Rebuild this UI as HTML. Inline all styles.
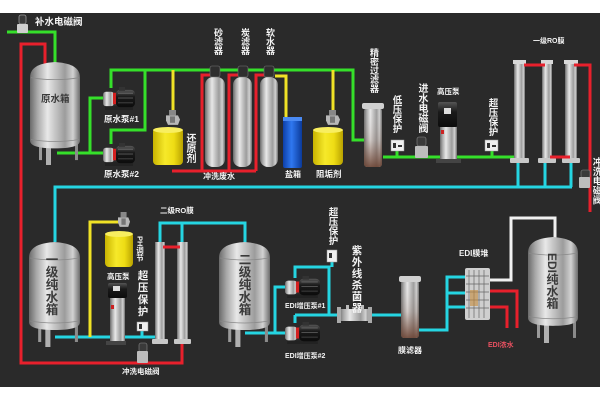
<!DOCTYPE html>
<html><head><meta charset="utf-8">
<style>
html,body{margin:0;padding:0;}
body{width:600px;height:400px;position:relative;overflow:hidden;background:#fff;}
svg{position:absolute;left:0;top:0;}
.t{position:absolute;color:#f4f4f4;font-family:"Liberation Sans","Noto Sans CJK SC",sans-serif;font-weight:bold;white-space:nowrap;line-height:1;}
.v{writing-mode:vertical-rl;text-orientation:upright;}
.vm{writing-mode:vertical-rl;text-orientation:mixed;}
.d{color:#3a3a3a;}
</style></head>
<body>
<svg width="600" height="400" viewBox="0 0 600 400" xmlns="http://www.w3.org/2000/svg">
<defs>
<linearGradient id="metal" x1="0" y1="0" x2="1" y2="0">
<stop offset="0" stop-color="#6a6a6a"/><stop offset="0.15" stop-color="#a9a9a9"/><stop offset="0.35" stop-color="#e8e8e8"/><stop offset="0.5" stop-color="#c6c6c6"/><stop offset="0.7" stop-color="#9c9c9c"/><stop offset="0.86" stop-color="#d2d2d2"/><stop offset="1" stop-color="#6c6c6c"/>
</linearGradient>
<linearGradient id="yel" x1="0" y1="0" x2="1" y2="0">
<stop offset="0" stop-color="#c9b400"/><stop offset="0.4" stop-color="#f6e92a"/><stop offset="0.7" stop-color="#eedc14"/><stop offset="1" stop-color="#b8a200"/>
</linearGradient>
<linearGradient id="blu" x1="0" y1="0" x2="1" y2="0">
<stop offset="0" stop-color="#0d3fa8"/><stop offset="0.45" stop-color="#2f78f0"/><stop offset="1" stop-color="#0b3a9a"/>
</linearGradient>
<linearGradient id="brn" x1="0" y1="0" x2="0" y2="1">
<stop offset="0" stop-color="#d8d8d8" stop-opacity="0"/><stop offset="0.55" stop-color="#7a5444" stop-opacity="0.2"/><stop offset="1" stop-color="#6a4232" stop-opacity="0.9"/>
</linearGradient>
<linearGradient id="blk" x1="0" y1="0" x2="0" y2="1">
<stop offset="0" stop-color="#555"/><stop offset="0.4" stop-color="#1a1a1a"/><stop offset="1" stop-color="#0c0c0c"/>
</linearGradient>
<symbol id="tank" viewBox="0 0 50 105" preserveAspectRatio="none">
<rect x="9" y="80" width="3" height="20" fill="#9a9a9a"/>
<rect x="16" y="80" width="5" height="25" fill="#b0b0b0"/>
<rect x="45" y="80" width="3" height="20" fill="#8a8a8a"/>
<path d="M0,16 C0,4 12,1 25,0 C38,1 50,4 50,16 L50,80 C50,86 40,88 25,88 C10,88 0,86 0,80 Z" fill="url(#metal)"/>
<path d="M1,16 Q25,20 49,16" stroke="#8a8a8a" stroke-width="0.8" fill="none"/>
<path d="M1,79 Q25,83 49,79" stroke="#8a8a8a" stroke-width="0.8" fill="none"/>
</symbol>
<symbol id="hpump" viewBox="0 0 32 24" preserveAspectRatio="none">
<rect x="2" y="20" width="28" height="4" fill="#222"/>
<rect x="0" y="5" width="11" height="15" rx="3" fill="url(#metal)"/>
<rect x="10" y="6" width="3" height="12" fill="#d42020"/>
<rect x="13" y="3" width="19" height="18" rx="4" fill="url(#blk)"/>
<rect x="15" y="6" width="15" height="1" fill="#666"/>
<rect x="15" y="11" width="15" height="1" fill="#555"/>
<rect x="15" y="16" width="15" height="1" fill="#444"/>
<rect x="16" y="0" width="6" height="4" fill="#333"/>
</symbol>
<symbol id="dose" viewBox="0 0 14 15" preserveAspectRatio="none">
<rect x="3" y="0" width="7" height="5" fill="#888"/>
<path d="M0,5 H12 L14,9 L12,14 H2 L0,10 Z" fill="#b8b8b8"/>
<rect x="4" y="6" width="5" height="6" fill="#777"/>
</symbol>
</defs>

<rect x="0" y="13" width="600" height="374" fill="#2a2a2a"/>

<!-- pipes -->
<g fill="none" stroke-width="3" stroke-linejoin="miter">
<g stroke="#35e02a">
<path d="M7,32 H55 V64"/>
<path d="M57,153 H103"/>
<path d="M90,153 V98 H104"/>
<path d="M111,88 V70 H353 V140 H366"/>
<path d="M145,70 V130 H111 V144"/>
<path d="M383,157 H517"/>
<path d="M397,157 V150"/>
<path d="M492,157 V150"/>
</g>
<g stroke="#e8202c">
<path d="M45,64 V44 H21 V363 H182 V342"/>
<path d="M172,171 H256"/>
<path d="M202,171 V75 H210"/>
<path d="M229,171 V75 H238"/>
<path d="M256,171 V75 H264"/>
<path d="M524,65 H545"/>
<path d="M574,65 H590 V212"/>
<path d="M550,157 H570"/>
<path d="M163,247 H180"/>
<path d="M490,291 H517 V328"/>
<path d="M490,307 H507 V328"/>
</g>
<g stroke="#25d5e2">
<path d="M55,242 V187 H572"/>
<path d="M518,162 V187"/>
<path d="M545,162 V187"/>
<path d="M571,162 V187"/>
<path d="M55,337 H158"/>
<path d="M142,337 V330"/>
<path d="M160,242 V223 H245 V244"/>
<path d="M182,223 V242"/>
<path d="M245,333 H275 V287 H287"/>
<path d="M275,333 H287"/>
<path d="M295,278 V267 H329 V315"/>
<path d="M295,315 H403"/>
<path d="M295,315 V323"/>
<path d="M332,267 V262"/>
<path d="M419,330 H447 V277 H466"/>
<path d="M447,293 H466"/>
<path d="M447,307 H466"/>
</g>
<g stroke="#f0e226">
<path d="M173,70 V113"/>
<path d="M275,76 H286 V118"/>
<path d="M333,70 V113"/>
<path d="M90,337 V222 H120"/>
</g>
<g stroke="#f0f0f0">
<path d="M490,280 H511 V218 H555 V239"/>
</g>
</g>

<!-- make-up valve -->
<rect x="19" y="15" width="7" height="9" rx="2" fill="#3a3a3a" stroke="#999" stroke-width="0.8"/>
<rect x="17" y="24" width="11" height="9" rx="1" fill="#cfcfcf"/>

<!-- tanks -->
<use href="#tank" x="30" y="62" width="50" height="103"/>
<use href="#tank" x="29" y="242" width="51" height="105"/>
<use href="#tank" x="219" y="242" width="51" height="105"/>
<use href="#tank" x="528" y="237" width="50" height="106"/>

<!-- pumps -->
<use href="#hpump" x="103" y="87" width="32" height="23"/>
<use href="#hpump" x="103" y="143" width="32" height="23"/>
<use href="#hpump" x="285" y="276" width="35" height="22"/>
<use href="#hpump" x="285" y="322" width="35" height="22"/>

<!-- dosing pumps -->
<use href="#dose" x="166" y="110" width="14" height="16"/>
<use href="#dose" x="326" y="110" width="14" height="16"/>
<use href="#dose" x="118" y="212" width="12" height="16"/>

<!-- yellow tanks -->
<rect x="153" y="128" width="30" height="37" rx="4" fill="url(#yel)"/>
<ellipse cx="168" cy="130" rx="15" ry="3" fill="#f8ee60"/>
<rect x="313" y="128" width="30" height="37" rx="4" fill="url(#yel)"/>
<ellipse cx="328" cy="130" rx="15" ry="3" fill="#f8ee60"/>
<rect x="105" y="232" width="28" height="35" rx="4" fill="url(#yel)"/>
<ellipse cx="119" cy="234" rx="14" ry="3" fill="#f8ee60"/>

<!-- salt tank -->
<rect x="283" y="117" width="19" height="51" rx="2" fill="url(#blu)"/>
<rect x="283" y="117" width="19" height="4" fill="#4a8af4"/>

<!-- sand/carbon/softener filters -->
<g>
<rect x="205" y="77" width="20" height="90" rx="8" fill="url(#metal)"/>
<rect x="233" y="77" width="19" height="90" rx="8" fill="url(#metal)"/>
<rect x="260" y="77" width="18" height="90" rx="8" fill="url(#metal)"/>
<rect x="210" y="66" width="10" height="11" rx="2" fill="#2e2e2e" stroke="#777" stroke-width="0.6"/>
<rect x="238" y="66" width="10" height="11" rx="2" fill="#2e2e2e" stroke="#777" stroke-width="0.6"/>
<rect x="264" y="66" width="10" height="11" rx="2" fill="#2e2e2e" stroke="#777" stroke-width="0.6"/>
</g>

<!-- precision filter -->
<rect x="364" y="108" width="18" height="59" rx="3" fill="url(#metal)"/>
<rect x="364" y="108" width="18" height="59" rx="3" fill="url(#brn)"/>
<rect x="362" y="103" width="22" height="6" rx="2" fill="#d0d0d0"/>
<!-- membrane filter -->
<rect x="401" y="280" width="18" height="58" rx="3" fill="url(#metal)"/>
<rect x="401" y="280" width="18" height="58" rx="3" fill="url(#brn)"/>
<rect x="399" y="276" width="22" height="6" rx="2" fill="#d0d0d0"/>

<!-- gauges -->
<g fill="#f0f0f0" stroke="#999" stroke-width="0.5">
<rect x="391" y="140" width="13" height="11"/>
<rect x="485" y="140" width="13" height="11"/>
<rect x="137" y="322" width="11" height="9"/>
<rect x="327" y="250" width="10" height="12"/>
</g>
<g fill="#333">
<rect x="393" y="143" width="3" height="5"/><rect x="398" y="145" width="4" height="2"/>
<rect x="487" y="143" width="3" height="5"/><rect x="492" y="145" width="4" height="2"/>
<rect x="139" y="324" width="3" height="5"/>
<rect x="329" y="253" width="3" height="5"/>
</g>

<!-- solenoid valves -->
<rect x="417" y="137" width="9" height="9" rx="2" fill="#3a3a3a" stroke="#888" stroke-width="0.6"/>
<rect x="415" y="146" width="13" height="12" rx="1" fill="#bdbdbd"/>
<rect x="581" y="170" width="9" height="8" rx="2" fill="#3a3a3a" stroke="#888" stroke-width="0.6"/>
<rect x="579" y="177" width="11" height="11" rx="1" fill="#bdbdbd"/>
<rect x="139" y="343" width="8" height="9" rx="2" fill="#3a3a3a" stroke="#888" stroke-width="0.6"/>
<rect x="137" y="351" width="11" height="12" rx="1" fill="#bdbdbd"/>

<!-- vertical high pressure pumps -->
<rect x="438" y="102" width="19" height="25" rx="2" fill="url(#blk)"/>
<rect x="444" y="108" width="7" height="6" fill="#ddd"/>
<rect x="440" y="127" width="17" height="34" fill="url(#metal)"/>
<rect x="441" y="130" width="3" height="4" fill="#c22"/>
<rect x="436" y="159" width="25" height="4" fill="#444"/>
<rect x="108" y="283" width="19" height="15" rx="2" fill="url(#blk)"/>
<rect x="113" y="286" width="7" height="5" fill="#ddd"/>
<rect x="110" y="298" width="15" height="45" fill="url(#metal)"/>
<rect x="111" y="305" width="3" height="4" fill="#c22"/>
<rect x="106" y="341" width="20" height="4" fill="#444"/>

<!-- RO tubes level 1 -->
<rect x="514" y="62" width="11" height="98" fill="url(#metal)"/>
<rect x="542" y="62" width="10" height="98" fill="url(#metal)"/>
<rect x="565" y="62" width="12" height="98" fill="url(#metal)"/>
<rect x="510" y="158" width="19" height="5" rx="1" fill="#c8c8c8"/>
<rect x="538" y="158" width="18" height="5" rx="1" fill="#c8c8c8"/>
<rect x="562" y="158" width="18" height="5" rx="1" fill="#c8c8c8"/>
<rect x="513" y="60" width="13" height="4" fill="#d8d8d8"/>
<rect x="541" y="60" width="12" height="4" fill="#d8d8d8"/>
<rect x="564" y="60" width="14" height="4" fill="#d8d8d8"/>

<!-- RO tubes level 2 -->
<rect x="155" y="242" width="10" height="100" fill="url(#metal)"/>
<rect x="177" y="242" width="11" height="100" fill="url(#metal)"/>
<rect x="152" y="339" width="16" height="5" rx="1" fill="#c8c8c8"/>
<rect x="174" y="339" width="17" height="5" rx="1" fill="#c8c8c8"/>

<!-- red joint over RO 2 -->
<path d="M163,247 H180" stroke="#e8202c" stroke-width="3"/>
<path d="M524,65 H545" stroke="#e8202c" stroke-width="3"/>
<path d="M574,65 H590" stroke="#e8202c" stroke-width="3"/>
<path d="M550,157 H570" stroke="#e8202c" stroke-width="3"/>

<!-- UV sterilizer -->
<rect x="339" y="309" width="31" height="12" rx="2" fill="url(#metal)"/>
<rect x="337" y="307" width="4" height="16" fill="#aaa"/>
<rect x="368" y="307" width="4" height="16" fill="#aaa"/>
<rect x="346" y="305" width="3" height="4" fill="#bbb"/>
<rect x="361" y="305" width="3" height="4" fill="#bbb"/>

<!-- EDI stack -->
<rect x="465" y="268" width="25" height="52" rx="2" fill="#cfcfcf"/>
<g stroke="#666" stroke-width="0.7">
<path d="M469,270 V318 M474,270 V318 M479,270 V318 M484,270 V318"/>
<path d="M466,276 H489 M466,284 H489 M466,292 H489 M466,300 H489 M466,308 H489"/>
</g>
<rect x="470" y="290" width="8" height="16" fill="#c48a3a" opacity="0.6"/>
</svg>

<!-- labels -->
<div class="t" style="left:35px;top:18px;font-size:9.5px;">补水电磁阀</div>
<div class="t d" style="left:41px;top:95px;font-size:9.5px;">原水箱</div>
<div class="t" style="left:104px;top:115px;font-size:8.5px;">原水泵#1</div>
<div class="t" style="left:104px;top:170px;font-size:8.5px;">原水泵#2</div>
<div class="t v" style="left:213px;top:28px;font-size:9px;">砂滤器</div>
<div class="t v" style="left:240px;top:28px;font-size:9px;">炭滤器</div>
<div class="t v" style="left:265px;top:28px;font-size:9px;">软水器</div>
<div class="t v" style="left:184px;top:133px;font-size:10px;">还原剂</div>
<div class="t" style="left:203px;top:173px;font-size:8px;">冲洗废水</div>
<div class="t" style="left:285px;top:171px;font-size:8px;">盐箱</div>
<div class="t" style="left:316px;top:170px;font-size:8.5px;">阻垢剂</div>
<div class="t v" style="left:369px;top:48px;font-size:9px;">精密过滤器</div>
<div class="t v" style="left:391px;top:95px;font-size:9.5px;">低压保护</div>
<div class="t v" style="left:416px;top:83px;font-size:10px;">进水电磁阀</div>
<div class="t" style="left:437px;top:88px;font-size:7.5px;">高压泵</div>
<div class="t v" style="left:487px;top:98px;font-size:9.5px;">超压保护</div>
<div class="t" style="left:533px;top:38px;font-size:7px;">一级RO膜</div>
<div class="t v" style="left:591px;top:157px;font-size:9.5px;">冲洗电磁阀</div>

<div class="t v d" style="left:44px;top:253px;font-size:12.5px;">一级纯水箱</div>
<div class="t vm" style="left:136px;top:236px;font-size:7.5px;">PH调节</div>
<div class="t" style="left:107px;top:273px;font-size:7.5px;">高压泵</div>
<div class="t v" style="left:137px;top:270px;font-size:10.5px;letter-spacing:1.5px;">超压保护</div>
<div class="t" style="left:160px;top:207px;font-size:7.5px;">二级RO膜</div>
<div class="t" style="left:122px;top:368px;font-size:7.5px;">冲洗电磁阀</div>
<div class="t v d" style="left:237px;top:253px;font-size:12.5px;">二级纯水箱</div>
<div class="t" style="left:285px;top:303px;font-size:7px;">EDI增压泵#1</div>
<div class="t" style="left:285px;top:353px;font-size:7px;">EDI增压泵#2</div>
<div class="t v" style="left:327px;top:207px;font-size:9.5px;">超压保护</div>
<div class="t v" style="left:351px;top:245px;font-size:10.5px;letter-spacing:1px;">紫外线杀菌器</div>
<div class="t" style="left:398px;top:347px;font-size:8px;">膜滤器</div>
<div class="t" style="left:459px;top:250px;font-size:8px;">EDI膜堆</div>
<div class="t" style="left:488px;top:342px;font-size:7px;color:#e85060;">EDI浓水</div>
<div class="t vm d" style="left:546px;top:253px;font-size:12px;">EDI纯水箱</div>
</body></html>
